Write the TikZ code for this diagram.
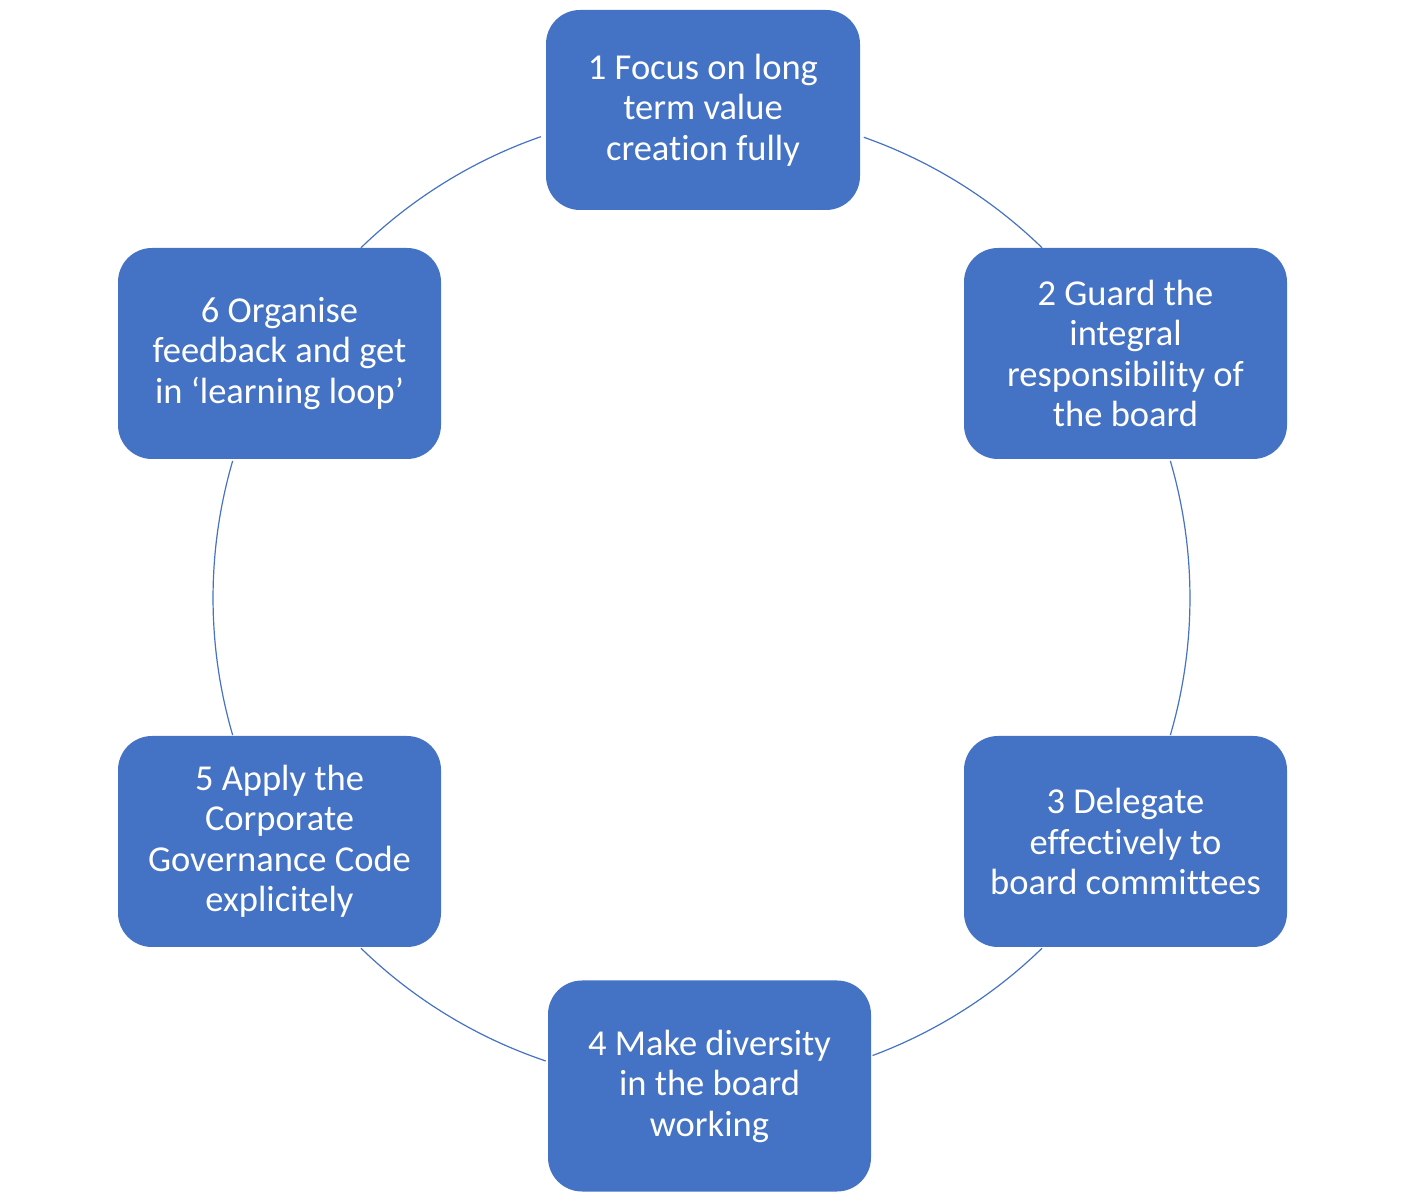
\documentclass[tikz,border=0pt]{standalone}
\usepackage{fontspec}
\setmainfont[Ligatures=NoCommon]{Carlito}
\definecolor{offblue}{HTML}{4472C4}
\begin{document}
\begin{tikzpicture}[x=1pt,y=1pt,
  stepbox/.style={draw=none,fill=offblue,rounded corners=34pt,text=white,
    align=center,font=\fontsize{36.5}{40.5}\selectfont,inner sep=0pt},
  ring/.style={draw=offblue,line width=1.2pt}]
\useasboundingbox (0,0) rectangle (1411,1200);
\coordinate (c) at (701.5,602);
\def\R{488.5}
% arcs between boxes
\draw[ring] (c) ++(70.6:\R) arc[start angle=70.6,end angle=45.8,radius=\R];
\draw[ring] (c) ++(16.3:\R) arc[start angle=16.3,end angle=-16.3,radius=\R];
\draw[ring] (c) ++(-45.8:\R) arc[start angle=-45.8,end angle=-69.5,radius=\R];
\draw[ring] (c) ++(-108.6:\R) arc[start angle=-108.6,end angle=-134.2,radius=\R];
\draw[ring] (c) ++(-163.7:\R) arc[start angle=-163.7,end angle=-196.3,radius=\R];
\draw[ring] (c) ++(134.2:\R) arc[start angle=134.2,end angle=109.2,radius=\R];
% boxes
\node[stepbox,minimum width=314pt,minimum height=200pt] (n1) at (703,1090) {1 Focus on long\\term value\\creation fully};
\node[stepbox,minimum width=323pt,minimum height=211pt] (n2) at (1125.5,846.5) {2 Guard the\\integral\\responsibility of\\the board};
\node[stepbox,minimum width=323pt,minimum height=211pt] (n3) at (1125.5,358.5) {3 Delegate\\effectively to\\board committees};
\node[stepbox,minimum width=323pt,minimum height=211pt] (n4) at (709.5,114) {4 Make diversity\\in the board\\working};
\node[stepbox,minimum width=323pt,minimum height=211pt] (n5) at (279.5,358.5) {5 Apply the\\Corporate\\Governance Code\\explicitely};
\node[stepbox,minimum width=323pt,minimum height=211pt] (n6) at (279.5,846.5) {6 Organise\\feedback and get\\in ‘learning loop’};
\end{tikzpicture}
\end{document}
